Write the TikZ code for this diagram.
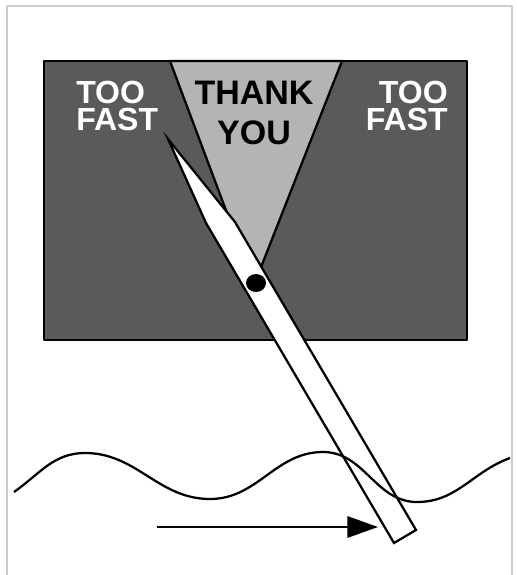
\documentclass[tikz,border=0pt]{standalone}
\usepackage{fontspec}
\setmainfont{Liberation Sans}
\usetikzlibrary{arrows.meta}
\definecolor{panelgray}{HTML}{5A5A5A}
\definecolor{thanksgray}{HTML}{B4B4B4}
\definecolor{framegray}{HTML}{CCCCCC}

\begin{document}
\begin{tikzpicture}[x=0.75pt,y=-0.75pt,line join=round,
  outline/.style={draw=black,line width=1.7pt},
  signtext/.style={inner sep=0pt,text depth=0pt},
  warntext/.style={signtext,text=white,font=\fontsize{24}{20.25}\selectfont\bfseries},
  thanktext/.style={signtext,text=black,align=center,font=\fontsize{25.5}{30}\selectfont\bfseries}]
  \useasboundingbox (0,0) rectangle (517,575);
  \draw[framegray,line width=1.5pt] (7,575) |- (512,6) -- (512,575);
  % the sign
  \filldraw[outline,fill=panelgray] (44,61) rectangle (467,340);
  \filldraw[outline,fill=thanksgray] (170,61) -- (342,61) -- (254,285) -- cycle;
  \node[warntext,align=left,anchor=south west] (slowL) at (76,131) {TOO\\FAST};
  \node[warntext,align=right,anchor=south east] (slowR) at (448,131) {TOO\\FAST};
  \node[thanktext,anchor=south] (thanks) at (254,145) {THANK\\YOU};
  % the needle and its pivot
  \filldraw[outline,fill=white,line join=miter]
    (394,543) -- (416,530) -- (235,222) -- (168,139) -- (206,223) -- cycle;
  \fill (256,283) ellipse [x radius=7.5pt,y radius=6.75pt];
  % the water and the flow
  \draw[line width=1.7pt] (14,492) to[out=35,in=180] (85,453)
    to[out=0,in=180] (210,499) to[out=0,in=180] (323,452)
    to[out=0,in=180] (417,502) to[out=0,in=200] (510,458);
  \coordinate (flowstart) at (157,527);
  \coordinate (flowend) at (378,527);
  \draw[line width=1.7pt,-{Triangle[length=23pt,width=16pt]}] (flowstart) -- (flowend);
\end{tikzpicture}
\end{document}
